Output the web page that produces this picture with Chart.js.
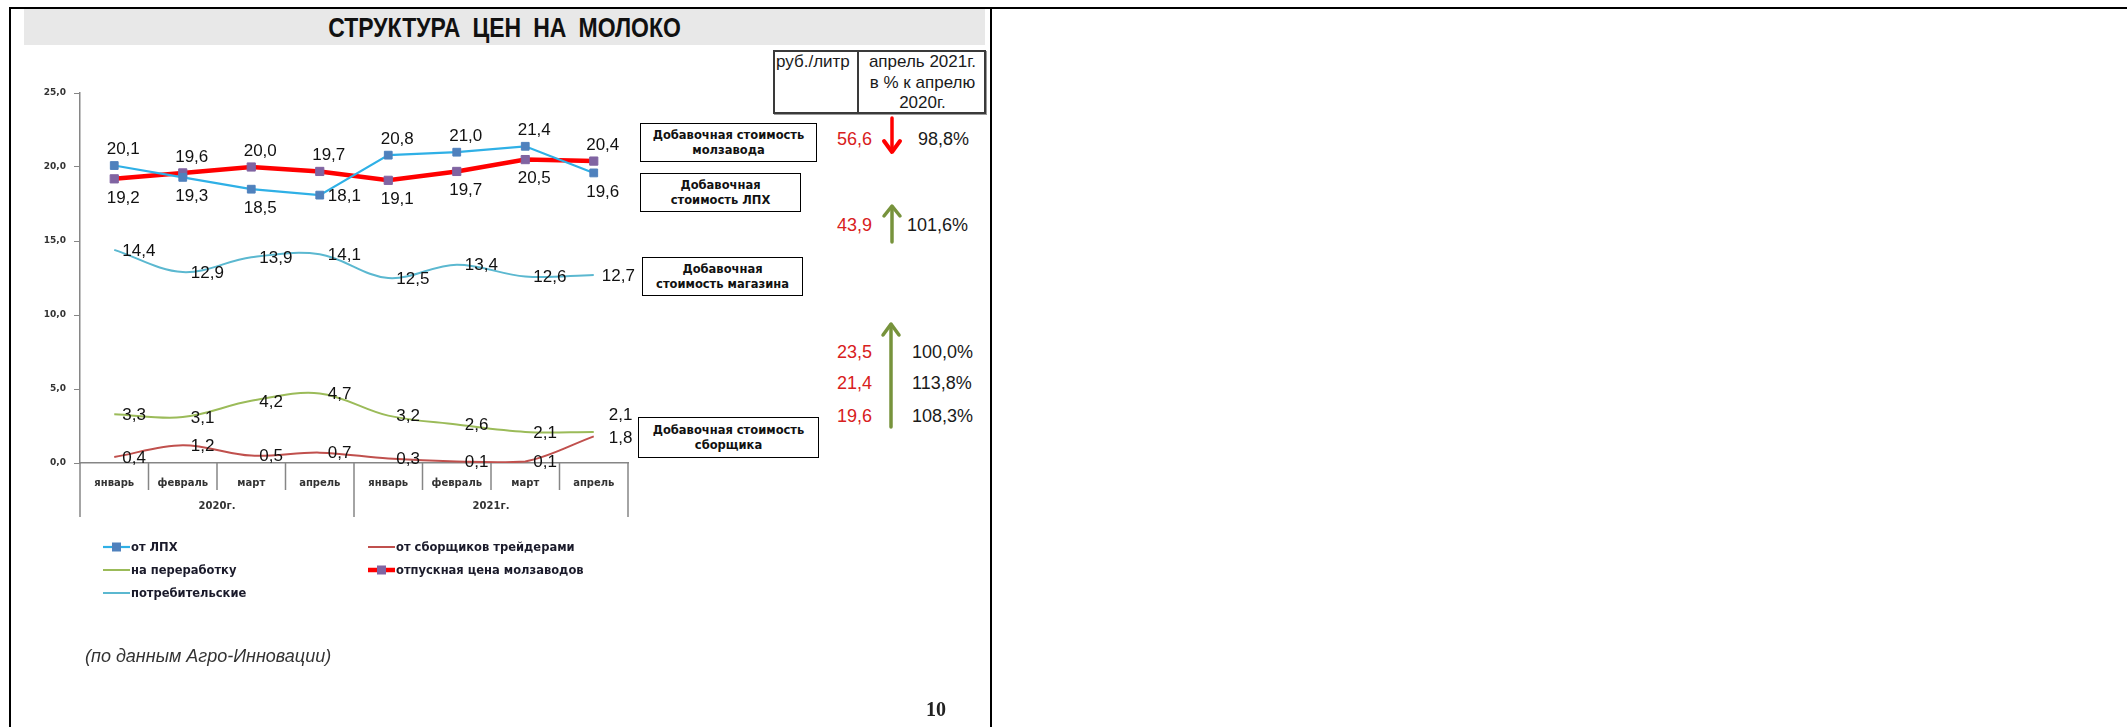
<!DOCTYPE html>
<html lang="ru">
<head>
<meta charset="utf-8">
<title>Структура цен на молоко</title>
<script src="https://cdn.jsdelivr.net/npm/chart.js@4.4.1/dist/chart.umd.min.js"></script>
<style>
    html, body { margin: 0; padding: 0; background: #fff; }
    body { width: 2127px; height: 727px; position: relative; overflow: hidden; font-family: "Liberation Sans", Arial, sans-serif; color: #1a1a1a; }
    .abs { position: absolute; }
    .line { background: #000; }
    #titleBar { left: 24px; top: 9px; width: 961px; height: 36px; background: #e8e8e8; }
    #title { left: 0; top: 0; width: 961px; height: 36px; line-height: 38px; text-align: center; font-weight: bold; font-size: 28px; word-spacing: 7px; transform: scaleX(0.82); color: #111; }
    #chartBox { left: 24px; top: 60px; width: 616px; height: 550px; }
    .box { border: 1.5px solid #000; font-family: "DejaVu Sans", Verdana, sans-serif; font-weight: bold; font-size: 11.5px; line-height: 15px; text-align: center; display: flex; align-items: center; justify-content: center; box-sizing: border-box; background: #fff; color: #111; }
    #head { left: 773px; top: 50px; width: 213px; height: 64px; border: 2px solid #3a3a3a; box-shadow: 1px 1px 0 #9a9a9a; box-sizing: border-box; font-size: 17px; }
    #headLeft { left: 1px; top: 0; line-height: 20px; }
    #headRight { left: 82px; top: 0; width: 127px; height: 60px; border-left: 2px solid #3a3a3a; text-align: center; line-height: 20.5px; }
    .val { font-size: 18px; line-height: 20px; transform: translateY(-50%); white-space: nowrap; }
    .rub { color: #d82020; }
    #note { left: 85px; top: 646px; font-size: 18px; font-style: italic; color: #333; }
    #page { left: 926px; top: 698px; font-family: "Liberation Serif", serif; font-weight: bold; font-size: 20px; color: #222; }
</style>
</head>
<body>
<div class="abs line" style="left:9px;top:7px;width:2118px;height:2px"></div>
<div class="abs line" style="left:9px;top:7px;width:2px;height:720px"></div>
<div class="abs line" style="left:990px;top:7px;width:2px;height:720px"></div>

<div id="titleBar" class="abs"><div id="title" class="abs">СТРУКТУРА ЦЕН НА МОЛОКО</div></div>

<div id="chartBox" class="abs"><canvas id="milkChart" width="616" height="550"></canvas></div>

<div class="abs box" style="left:640px;top:123px;width:177px;height:39px">Добавочная стоимость<br>молзавода</div>
<div class="abs box" style="left:640px;top:173px;width:161px;height:39px">Добавочная<br>стоимость ЛПХ</div>
<div class="abs box" style="left:642px;top:257px;width:161px;height:39px">Добавочная<br>стоимость магазина</div>
<div class="abs box" style="left:638px;top:417px;width:181px;height:41px">Добавочная стоимость<br>сборщика</div>

<div id="head" class="abs">
    <div id="headLeft" class="abs">руб./литр</div>
    <div id="headRight" class="abs">апрель 2021г.<br>в % к апрелю<br>2020г.</div>
</div>
<div id="sideValues"></div>

<svg class="abs" style="left:0;top:0" width="1000" height="727">
    <g fill="none" stroke-linecap="round" stroke-linejoin="round">
        <line x1="892" y1="118" x2="892" y2="150" stroke="#ff0000" stroke-width="3.5"/>
        <polyline points="884,141 892,152 900,141" stroke="#ff0000" stroke-width="4"/>
        <line x1="892" y1="207" x2="892" y2="242" stroke="#77933c" stroke-width="3.5"/>
        <polyline points="884,216 892,206 900,216" stroke="#77933c" stroke-width="3.5"/>
        <line x1="891" y1="325" x2="891" y2="427" stroke="#77933c" stroke-width="3.5"/>
        <polyline points="883,335 891,324 899,335" stroke="#77933c" stroke-width="3.5"/>
    </g>
</svg>

<div id="note" class="abs">(по данным Агро-Инновации)</div>
<div id="page" class="abs">10</div>

<script>
// Months on the axis, grouped by year
const months = ['январь', 'февраль', 'март', 'апрель', 'январь', 'февраль', 'март', 'апрель'];
const years = ['2020г.', '2021г.'];

// Prices, rub per litre
const fromLPH = [20.1, 19.3, 18.5, 18.1, 20.8, 21.0, 21.4, 19.6];
const forProcessing = [3.3, 3.1, 4.2, 4.7, 3.2, 2.6, 2.1, 2.1];
const consumer = [14.4, 12.9, 13.9, 14.1, 12.5, 13.4, 12.6, 12.7];
const fromCollectors = [0.4, 1.2, 0.5, 0.7, 0.3, 0.1, 0.1, 1.8];
const plantPrice = [19.2, 19.6, 20.0, 19.7, 19.1, 19.7, 20.5, 20.4];

// Right-hand summary
const sideRub = ['56,6', '43,9', '23,5', '21,4', '19,6'];
const sidePct = ['98,8%', '101,6%', '100,0%', '113,8%', '108,3%'];

// layout of the summary rows
const sideRowY = [139, 225, 352, 383, 416];
const sidePctX = [918, 907, 912, 912, 912];

// where each value label sits relative to its point
const lphLabelPos = ['top', 'bottom', 'bottom', 'right', 'top', 'top', 'top', 'bottom'];
const plantLabelPos = ['bottom', 'top', 'top', 'top', 'bottom', 'bottom', 'bottom', 'top'];
const processingLabelPos = ['right', 'right', 'right', 'right', 'right', 'right', 'right', 'upright'];
const collectorsLabelPos = ['right', 'right', 'right', 'right', 'right', 'right', 'right', 'farright'];

const sideHolder = document.getElementById('sideValues');
sideRub.forEach((v, i) => {
    const a = document.createElement('div');
    a.className = 'abs val rub';
    a.style.left = '837px';
    a.style.top = sideRowY[i] + 'px';
    a.textContent = v;
    sideHolder.appendChild(a);
    const b = document.createElement('div');
    b.className = 'abs val';
    b.style.left = sidePctX[i] + 'px';
    b.style.top = sideRowY[i] + 'px';
    b.textContent = sidePct[i];
    sideHolder.appendChild(b);
});

function fmt(v) {
    return Number(v).toFixed(1).replace('.', ',');
}

const AXIS = '#868686';
const SMALL_FONT = '"DejaVu Sans", Verdana, sans-serif';
const CANVAS_X = 24, CANVAS_Y = 60;

// value labels next to the points
const pointLabels = {
    id: 'pointLabels',
    afterDatasetsDraw(chart) {
        const ctx = chart.ctx;
        ctx.save();
        ctx.font = '17px "Liberation Sans", Arial, sans-serif';
        ctx.fillStyle = '#111';
        ctx.textBaseline = 'middle';
        chart.data.datasets.forEach((ds, i) => {
            const meta = chart.getDatasetMeta(i);
            meta.data.forEach((pt, j) => {
                const pos = Array.isArray(ds.labelPos) ? ds.labelPos[j] : ds.labelPos;
                let x = pt.x, y = pt.y, align = 'center';
                if (pos === 'top') { x += 9; y -= 16; }
                else if (pos === 'bottom') { x += 9; y += 19; }
                else if (pos === 'right') { x += 8; y += 1; align = 'left'; }
                else if (pos === 'farright') { x += 15; y += 2; align = 'left'; }
                else if (pos === 'upright') { x += 15; y -= 17; align = 'left'; }
                ctx.textAlign = align;
                ctx.fillText(fmt(ds.data[j]), x, y);
            });
        });
        ctx.restore();
    }
};

// month labels, separators, year row and the legend
const axisExtras = {
    id: 'axisExtras',
    afterDraw(chart) {
        const ctx = chart.ctx;
        const xs = chart.scales.x;
        const top = chart.chartArea.bottom;
        const n = months.length;
        const edges = [];
        for (let i = 0; i <= n; i++) {
            if (i === 0) edges.push(xs.left);
            else if (i === n) edges.push(xs.right);
            else edges.push((xs.getPixelForValue(i - 1) + xs.getPixelForValue(i)) / 2);
        }
        const perYear = n / years.length;
        ctx.save();
        ctx.strokeStyle = AXIS;
        ctx.lineWidth = 1.5;
        edges.forEach((ex, i) => {
            const long = i % perYear === 0;
            ctx.beginPath();
            ctx.moveTo(ex, top);
            ctx.lineTo(ex, top + (long ? 54 : 27));
            ctx.stroke();
        });
        ctx.fillStyle = '#333';
        ctx.textAlign = 'center';
        ctx.textBaseline = 'middle';
        ctx.font = 'bold 10px ' + SMALL_FONT;
        months.forEach((m, i) => {
            ctx.fillText(m, xs.getPixelForValue(i), top + 20);
        });
        years.forEach((y, k) => {
            const cx = (edges[k * perYear] + edges[(k + 1) * perYear]) / 2;
            ctx.fillText(y, cx, top + 43);
        });

        // legend in two columns
        const colX = [103 - CANVAS_X, 368 - CANVAS_X];
        const rowY = [547 - CANVAS_Y, 570 - CANVAS_Y, 593 - CANVAS_Y];
        ctx.font = 'bold 11.5px ' + SMALL_FONT;
        ctx.textAlign = 'left';
        chart.data.datasets.forEach((ds, i) => {
            const col = i < 3 ? 0 : 1;
            const row = i < 3 ? i : i - 3;
            const x0 = colX[col], y0 = rowY[row];
            ctx.strokeStyle = ds.borderColor;
            ctx.lineWidth = ds.borderWidth;
            ctx.beginPath();
            ctx.moveTo(x0, y0);
            ctx.lineTo(x0 + 27, y0);
            ctx.stroke();
            if (ds.pointRadius > 0) {
                ctx.fillStyle = ds.pointBackgroundColor;
                ctx.fillRect(x0 + 9, y0 - 4.5, 9, 9);
            }
            ctx.fillStyle = '#1a1a2a';
            ctx.fillText(ds.label, x0 + 28, y0 + 1);
        });
        ctx.restore();
    }
};

const ctx = document.getElementById('milkChart').getContext('2d');
new Chart(ctx, {
    type: 'line',
    data: {
        labels: months,
        datasets: [
            {
                label: 'от ЛПХ',
                data: fromLPH,
                borderColor: '#2fb0e6',
                borderWidth: 2.2,
                pointStyle: 'rect',
                pointRadius: 5.5,
                pointBackgroundColor: '#4f81bd',
                pointBorderColor: '#4f81bd',
                pointBorderWidth: 1,
                tension: 0,
                labelPos: lphLabelPos
            },
            {
                label: 'на переработку',
                data: forProcessing,
                borderColor: '#9bbb59',
                borderWidth: 2,
                pointRadius: 0,
                tension: 0.35,
                labelPos: processingLabelPos
            },
            {
                label: 'потребительские',
                data: consumer,
                borderColor: '#5bb8d0',
                borderWidth: 2,
                pointRadius: 0,
                tension: 0.35,
                labelPos: 'right'
            },
            {
                label: 'от сборщиков трейдерами',
                data: fromCollectors,
                borderColor: '#c0504d',
                borderWidth: 2,
                pointRadius: 0,
                tension: 0.35,
                labelPos: collectorsLabelPos
            },
            {
                label: 'отпускная цена молзаводов',
                data: plantPrice,
                borderColor: '#ff0000',
                borderWidth: 4.5,
                pointStyle: 'rect',
                pointRadius: 5.8,
                pointBackgroundColor: '#8064a2',
                pointBorderColor: '#8064a2',
                pointBorderWidth: 1,
                tension: 0,
                labelPos: plantLabelPos
            }
        ]
    },
    options: {
        responsive: false,
        animation: false,
        layout: { padding: { left: 8, right: 12, top: 33, bottom: 87 } },
        plugins: {
            legend: { display: false },
            tooltip: { enabled: false }
        },
        scales: {
            x: {
                offset: true,
                grid: { drawOnChartArea: false, drawTicks: false },
                border: { color: AXIS, width: 1.5 },
                ticks: { display: false },
                afterFit(scale) { scale.height = 60; }
            },
            y: {
                min: 0,
                max: 25,
                ticks: {
                    stepSize: 5,
                    padding: 8,
                    color: '#333',
                    font: { family: SMALL_FONT, size: 9, weight: 'bold' },
                    callback: v => fmt(v)
                },
                grid: { drawOnChartArea: false, drawTicks: true, tickLength: 6, color: AXIS },
                border: { color: AXIS, width: 1.5 },
                afterFit(scale) { scale.width = 48; }
            }
        }
    },
    plugins: [pointLabels, axisExtras]
});
</script>
</body>
</html>
